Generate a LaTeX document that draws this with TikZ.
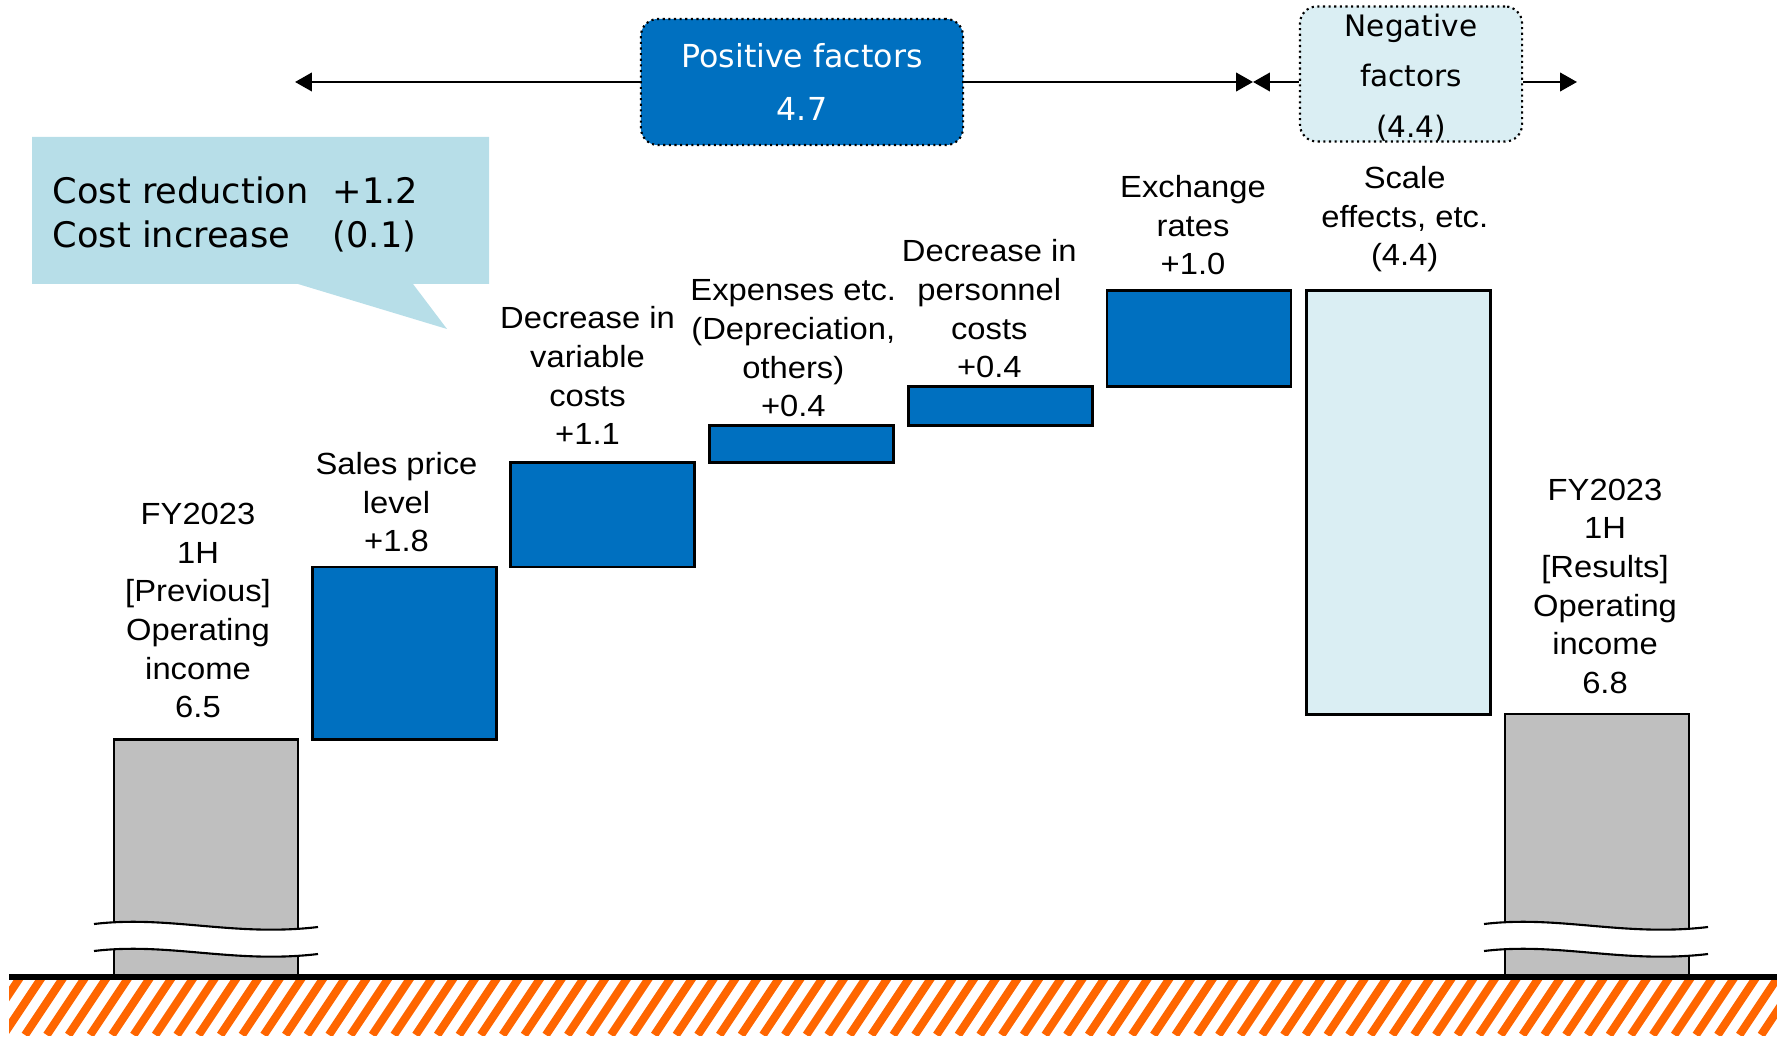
\documentclass[tikz,border=0pt]{standalone}
\usepackage{fontspec}
\setmainfont{Liberation Sans}[FakeStretch=1.07]
\newfontfamily\boxfont{DejaVu Sans}
\usepackage{tikz}
\usetikzlibrary{positioning, arrows.meta}
\definecolor{posblue}{RGB}{0,112,192}
\definecolor{neglight}{RGB}{218,238,243}
\definecolor{basegrey}{RGB}{191,191,191}
\definecolor{calloutblue}{RGB}{183,222,232}
\definecolor{hatchorange}{RGB}{255,102,0}
\tikzset{
  barbox/.style={draw, line width=0.8pt, minimum width=1.84cm, inner sep=0pt, anchor=north},
  posbar/.style={barbox, fill=posblue},
  negbar/.style={barbox, fill=neglight},
  basebar/.style={barbox, fill=basegrey},
  barlabel/.style={align=center, inner sep=0pt, font=\fontsize{8.7}{11}\selectfont},
  factorbox/.style={draw, densely dotted, line width=0.6pt, rounded corners=0.17cm, align=center, inner sep=0pt},
  span/.style={-{Triangle[length=4.8pt,width=5.2pt]}, line width=0.8pt},
}

\begin{document}
\begin{tikzpicture}[x=0.01cm, y=-0.01cm]
\useasboundingbox (0,0) rectangle (1777,1037);

% callout
\fill[calloutblue] (32,137) -- (489,137) -- (489,284) -- (413,284) -- (447,329) -- (298,284) -- (32,284) -- cycle;
\node[anchor=north west, inner sep=0pt, align=left, font=\boxfont\fontsize{10}{12.5}\selectfont] (costnote) at (52,176)
  {\makebox[2.8cm][l]{Cost reduction}+1.2\\\makebox[2.8cm][l]{Cost increase}(0.1)};

% factor boxes on top
\node[factorbox, fill=posblue, text=white, minimum width=3.22cm, minimum height=1.26cm,
      font=\boxfont\fontsize{9}{15.2}\selectfont] (posbox) at (802,82) {Positive factors\\4.7};
\node[factorbox, fill=neglight, minimum width=2.22cm, minimum height=1.35cm,
      font=\boxfont\fontsize{8.4}{14.4}\selectfont] (negbox) at (1411,74) {\rule{0pt}{8.4pt}Negative\\factors\\(4.4)};
\coordinate (leftend) at (295,82);
\coordinate (meet) at (1253,82);
\coordinate (rightend) at (1577,82);
\draw[span] (posbox.west) -- (leftend);
\draw[span] (posbox.east) -- (meet);
\draw[span] (negbox.west |- meet) -- (meet);
\draw[span] (negbox.east |- meet) -- (rightend);

% bars
\node[basebar, minimum height=2.38cm] (prev) at (206,738) {};
\node[posbar, minimum height=1.725cm] (sales) at (404.5,565.5) {};
\node[posbar, minimum height=1.045cm] (varcost) at (602.5,461) {};
\node[posbar, minimum height=0.37cm] (expense) at (801.3,424) {};
\node[posbar, minimum height=0.39cm] (personnel) at (1000.3,385) {};
\node[posbar, minimum height=0.96cm] (fxrate) at (1199,289) {};
\node[negbar, minimum height=4.235cm] (scale) at (1398.7,289) {};
\node[basebar, minimum height=2.635cm] (result) at (1597,712.5) {};

% labels
\node[barlabel, above=0.19cm of prev, xshift=-0.08cm] (prevlbl) {FY2023\\1H\\{}[Previous]\\Operating\\income\\6.5};
\node[barlabel, above=0.125cm of sales, xshift=-0.08cm] (saleslbl) {Sales price\\level\\+1.8};
\node[barlabel, above=0.155cm of varcost, xshift=-0.15cm] (varcostlbl) {Decrease in\\variable\\costs\\+1.1};
\node[barlabel, above=0.06cm of expense, xshift=-0.08cm] (expenselbl) {Expenses etc.\\(Depreciation,\\others)\\+0.4};
\node[barlabel, above=0.06cm of personnel, xshift=-0.11cm] (personnellbl) {Decrease in\\personnel\\costs\\+0.4};
\node[barlabel, above=0.13cm of fxrate, xshift=-0.06cm] (fxratelbl) {Exchange\\rates\\+1.0};
\node[barlabel, above=0.16cm of scale, xshift=0.06cm] (scalelbl) {Scale\\effects, etc.\\(4.4)};
\node[barlabel, above=0.18cm of result, xshift=0.08cm] (resultlbl) {FY2023\\1H\\{}[Results]\\Operating\\income\\6.8};

% axis break marks
\foreach \bx in {114,1504} {
  \fill[white] (\bx-20,924) .. controls (\bx+55,915) and (\bx+120,937) .. (\bx+204,927)
     -- (\bx+204,954) .. controls (\bx+120,964) and (\bx+55,942) .. (\bx-20,951) -- cycle;
  \draw[line width=0.6pt] (\bx-20,924) .. controls (\bx+55,915) and (\bx+120,937) .. (\bx+204,927);
  \draw[line width=0.6pt] (\bx-20,951) .. controls (\bx+55,942) and (\bx+120,964) .. (\bx+204,954);
}

% ground
\begin{scope}
  \clip (9,980) rectangle (1777,1035);
  \foreach \k in {0,...,84} \draw[hatchorange, line width=2.3pt] ({\k*21.7-40},1035) -- ++(40,-60);
\end{scope}
\draw[line width=1.7pt] (9,977) -- (1777,977);
\end{tikzpicture}
\end{document}
